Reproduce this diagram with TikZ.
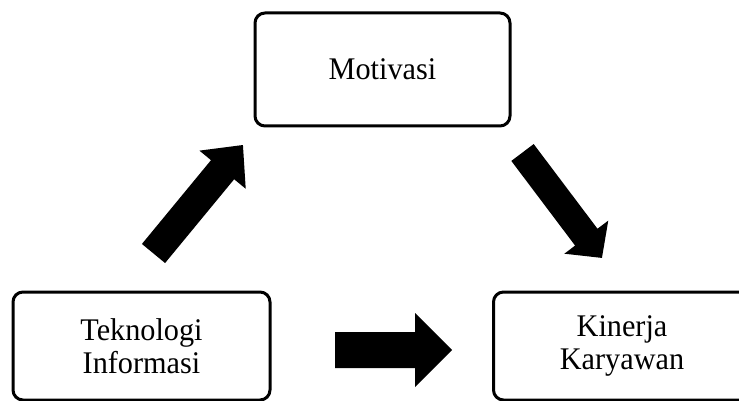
\documentclass[tikz,border=0pt]{standalone}
\usepackage{fontspec}
\setmainfont{Liberation Serif}[FakeStretch=0.96]
\tikzset{
  txt/.style={align=center, inner sep=0pt, font=\fontsize{31.5}{33}\selectfont},
  box/.style={txt, draw=black, line width=3pt, rounded corners=10pt},
  blockarrow/.style={fill=black, draw=none}
}
% #1 tail coordinate name, #2 angle, #3 length, #4 shaft half-width, #5 head half-width, #6 head length
\newcommand{\myblockarrow}[6]{%
  \begin{scope}[shift={(#1)}, rotate=#2]
    \fill[blockarrow] (0,#4) -- ({#3-#6},#4) -- ({#3-#6},#5) -- (#3,0)
      -- ({#3-#6},-#5) -- ({#3-#6},-#4) -- (0,-#4) -- cycle;
  \end{scope}}
\begin{document}
\begin{tikzpicture}[x=1pt, y=-1pt]
\useasboundingbox (0,0) rectangle (739,401);
\node[box, minimum width=255pt, minimum height=113pt] (mot) at (382.5,69.5) {Motivasi};
\node[box, minimum width=257pt, minimum height=108pt] (tek) at (141.5,346) {Teknologi\\Informasi};
\node[box, minimum width=300pt, minimum height=108pt, anchor=west] (kin) at (492,346) {};
\node[txt] (kintext) at (622,346) {Kinerja\\Karyawan};
\coordinate (a1) at (153.5,253.5);
\coordinate (a2) at (335,350);
\coordinate (a3) at (522.5,152.5);
\myblockarrow{a1}{50.5}{140.6}{15}{30}{32}
\myblockarrow{a2}{0}{117}{18}{37}{37}
\myblockarrow{a3}{-53}{132}{14}{27.5}{26}
\end{tikzpicture}
\end{document}
